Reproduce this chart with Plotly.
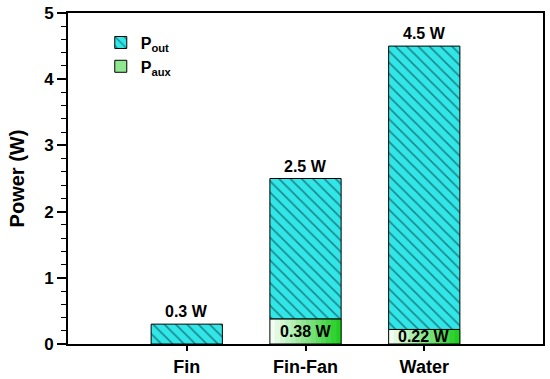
import plotly.graph_objects as go

categories = ["Fin", "Fin-Fan", "Water"]
p_total = [0.3, 2.5, 4.5]
p_aux = [0.0, 0.38, 0.22]
total_labels = ["0.3 W", "2.5 W", "4.5 W"]
aux_labels = ["", "0.38 W", "0.22 W"]
y_ticks = [0, 1, 2, 3, 4, 5]

p_out = [t - a for t, a in zip(p_total, p_aux)]
xs = list(range(len(categories)))
FONT = "Arial, Liberation Sans, sans-serif"
BW = 0.6

fig = go.Figure()

# gradient slices for P_aux (white -> green)
n = 14
for i in range(n):
    f = (i + 0.5) / n
    r = int(248 + (28 - 248) * f)
    g = int(255 + (205 - 255) * f)
    b = int(248 + (28 - 248) * f)
    fig.add_trace(go.Bar(
        x=xs, y=p_aux, base=[0] * len(xs),
        width=[BW / n + 0.003] * len(xs),
        offset=[-BW / 2 + i * BW / n] * len(xs),
        marker=dict(color=f"rgb({r},{g},{b})", line=dict(width=0)),
        showlegend=False, hoverinfo="skip"))
# outline of P_aux segment
fig.add_trace(go.Bar(
    x=xs, y=p_aux, base=[0] * len(xs), width=BW,
    marker=dict(color="rgba(0,0,0,0)", line=dict(color="black", width=1)),
    showlegend=False, hoverinfo="skip"))

# P_out hatched
fig.add_trace(go.Bar(
    x=xs, y=p_out, base=p_aux, width=BW,
    name="<b>P<sub>out</sub></b>", legendgroup="out",
    marker=dict(color="#30e6e6", line=dict(color="black", width=1),
                pattern=dict(shape="\\", fgcolor="#0a2433", bgcolor="#30e6e6",
                             size=8, solidity=0.2)),
))
# legend entry for P_aux
fig.add_trace(go.Bar(
    x=[None], y=[None], name="<b>P<sub>aux</sub></b>", legendgroup="aux",
    marker=dict(color="#8fe88f", line=dict(color="black", width=1)),
))

for x, t, lab in zip(xs, p_total, total_labels):
    fig.add_annotation(x=x, y=t, text=f"<b>{lab}</b>", showarrow=False,
                       yanchor="bottom", yshift=2,
                       font=dict(family=FONT, size=16, color="black"))
for x, a, lab in zip(xs, p_aux, aux_labels):
    if lab:
        fig.add_annotation(x=x, y=a / 2, text=f"<b>{lab}</b>", showarrow=False,
                           yanchor="middle",
                           font=dict(family=FONT, size=16, color="black"))

fig.update_layout(
    width=550, height=379,
    margin=dict(l=68, r=7, t=13, b=35),
    barmode="overlay",
    plot_bgcolor="white", paper_bgcolor="white",
    font=dict(family=FONT, size=16, color="black"),
    legend=dict(x=0.069, y=0.962, xanchor="left", yanchor="top",
                bgcolor="rgba(0,0,0,0)", traceorder="normal",
                font=dict(family=FONT, size=16, color="black"),
                tracegroupgap=4),
    showlegend=True,
)
fig.update_xaxes(
    range=[-1, 3], tickvals=xs, ticktext=[f"<b>{c}</b>" for c in categories],
    showline=True, linecolor="black", linewidth=2, mirror=True,
    ticks="outside", ticklen=5, tickwidth=1.5, tickcolor="black",
    showgrid=False, zeroline=False, automargin=False,
    tickfont=dict(family=FONT, size=18, color="black"),
)
fig.update_yaxes(
    range=[0, 5], tickvals=y_ticks, ticktext=[f"<b>{v}</b>" for v in y_ticks],
    showline=True, linecolor="black", linewidth=2, mirror=True,
    ticks="outside", ticklen=9, tickwidth=1.5, tickcolor="black",
    minor=dict(dtick=0.2, ticks="outside", ticklen=5, tickwidth=1.2, tickcolor="black", showgrid=False),
    showgrid=False, zeroline=False, automargin=False,
    title=dict(text="<b>Power (W)</b>", font=dict(family=FONT, size=20, color="black"), standoff=14),
    tickfont=dict(family=FONT, size=17, color="black"),
)

fig.write_html("out.html",
               config={"displayModeBar": False},
               post_script="document.body.style.margin='0';document.body.style.overflow='hidden';")
